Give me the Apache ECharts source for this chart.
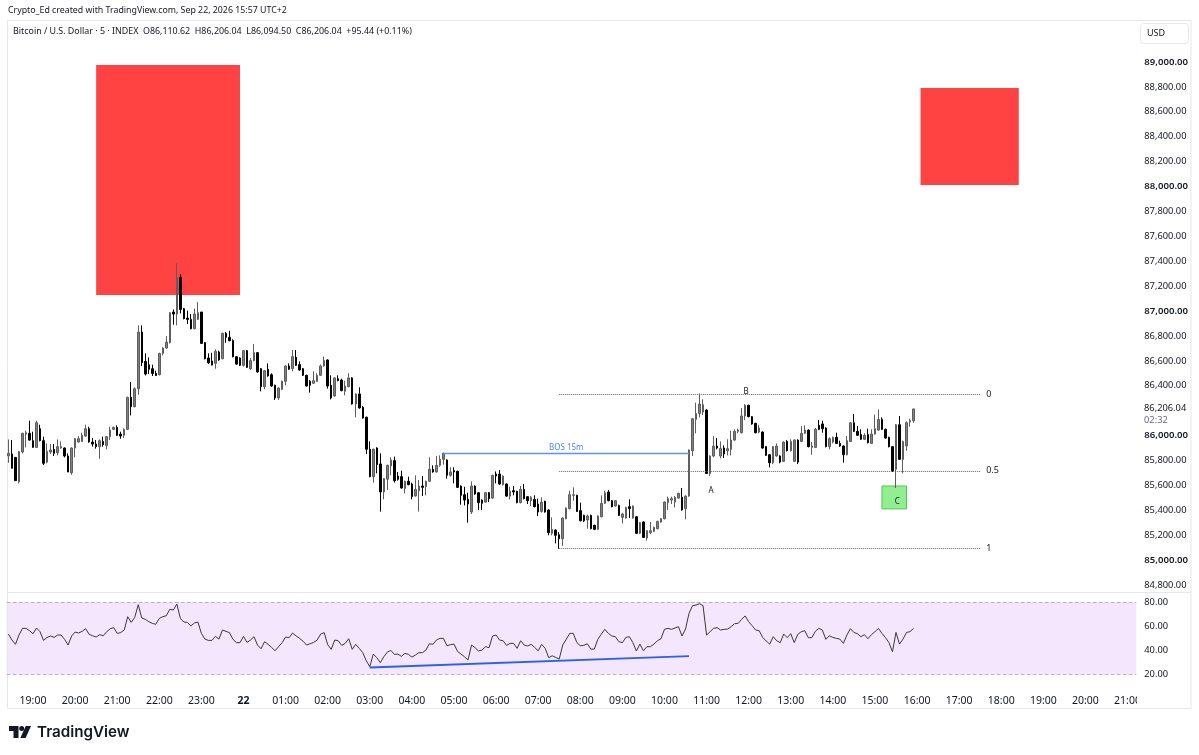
<!DOCTYPE html>
<html>
<head>
<meta charset="utf-8">
<title>BTCUSD 5m</title>
<style>
  html, body { margin: 0; padding: 0; background: #fff; }
  #main { width: 1199px; height: 755px; }
</style>
<script src="https://cdn.jsdelivr.net/npm/echarts@6/dist/echarts.min.js"></script>
</head>
<body>
<div id="main"></div>
<script>
// 5 minute bars, [open, close, low, high], first bar is 18:25
var ohlc = [
  [85828,85849,85774,85961],[85844,85729,85729,85956],[85817,85630,85630,85817],[85621,85865,85608,85865],[85860,86010,85849,86015],
  [86004,86015,85897,86031],[86010,85956,85951,86111],[85951,85897,85897,86023],[85897,86095,85897,86111],[86047,85951,85945,86079],
  [85951,85769,85755,85983],[85779,85865,85769,85929],[85860,85876,85844,85924],[85881,85849,85828,85924],[85854,85903,85833,85961],
  [85892,85903,85887,85945],[85892,85828,85817,85897],[85828,85699,85699,85849],[85694,85892,85678,85897],[85892,85967,85817,85972],
  [85940,85967,85935,85988],[85945,85994,85940,86015],[85988,86047,85983,86079],[86047,85940,85935,86063],[85940,85924,85903,85972],
  [85924,85903,85887,85956],[85903,85951,85806,85961],[85945,85919,85903,85983],[85913,85983,85881,85988],[85983,86036,85956,86063],
  [86042,86058,86036,86063],[86058,85994,85988,86074],[86004,85988,85967,86023],[85994,86042,85972,86050],[86042,86299,86036,86304],
  [86299,86224,86154,86422],[86224,86368,86218,86379],[86368,86823,86320,86877],[86823,86577,86550,86877],[86588,86486,86475,86652],
  [86561,86524,86486,86620],[86529,86491,86470,86561],[86491,86475,86470,86513],[86481,86652,86475,86657],[86652,86695,86636,86700],
  [86695,86743,86690,86791],[86738,86979,86732,86984],[86984,86968,86882,87005],[86968,87262,86877,87375],[87262,87005,86973,87289],
  [87011,86931,86925,87016],[86936,86925,86888,86995],[86925,86850,86845,86968],[86850,86968,86845,87011],[86925,86979,86920,87064],
  [86984,86732,86727,86984],[86738,86609,86604,86743],[86615,86577,86566,86652],[86591,86558,86556,86657],[86572,86668,86529,86684],
  [86663,86599,86593,86674],[86609,86813,86604,86818],[86813,86781,86738,86823],[86781,86754,86749,86834],[86754,86625,86620,86765],
  [86625,86566,86561,86631],[86615,86556,86551,86620],[86556,86674,86546,86679],[86674,86540,86535,86679],[86529,86594,86519,86615],
  [86594,86658,86588,86728],[86658,86503,86497,86663],[86529,86385,86347,86535],[86385,86513,86363,86519],[86524,86471,86465,86572],
  [86481,86390,86385,86492],[86396,86294,86278,86401],[86294,86374,86278,86380],[86363,86428,86358,86433],[86428,86551,86396,86556],
  [86551,86524,86519,86572],[86529,86626,86508,86679],[86620,86556,86551,86679],[86562,86519,86513,86588],[86529,86476,86471,86535],
  [86476,86390,86385,86481],[86428,86396,86337,86438],[86412,86433,86406,86508],[86428,86476,86422,86492],[86476,86551,86471,86562],
  [86551,86594,86546,86626],[86599,86390,86369,86604],[86396,86294,86283,86476],[86310,86455,86305,86460],[86449,86433,86428,86476],
  [86438,86353,86347,86449],[86347,86390,86315,86433],[86385,86455,86380,86492],[86455,86246,86240,86460],[86246,86326,86139,86331],
  [86326,86214,86208,86380],[86219,86133,86128,86230],[86139,85882,85844,86144],[85882,85662,85657,85946],[85662,85882,85614,85887],
  [85892,85759,85689,85898],[85764,85539,85381,85850],[85539,85646,85480,85651],[85641,85753,85555,85759],[85748,85796,85673,85817],
  [85791,85630,85614,85823],[85667,85641,85630,85700],[85662,85571,85566,85710],[85566,85625,85528,85630],[85625,85598,85593,85662],
  [85603,85502,85480,85614],[85507,85560,85502,85673],[85550,85587,85381,85635],[85587,85576,85507,85667],[85582,85625,85512,85630],
  [85625,85721,85619,85817],[85721,85700,85694,85753],[85700,85753,85694,85828],[85753,85801,85742,85833],[85801,85850,85759,85855],
  [85796,85673,85646,85801],[85673,85700,85662,85737],[85710,85700,85609,85737],[85705,85576,85571,85710],[85587,85512,85437,85592],
  [85517,85474,85431,85581],[85480,85442,85292,85533],[85378,85587,85362,85624],[85587,85522,85517,85592],[85533,85453,85394,85539],
  [85474,85448,85394,85480],[85458,85533,85453,85539],[85533,85485,85458,85539],[85490,85672,85485,85678],[85683,85667,85608,85704],
  [85683,85603,85597,85715],[85597,85667,85592,85672],[85603,85506,85501,85608],[85506,85544,85480,85581],[85549,85539,85512,85587],
  [85544,85453,85448,85549],[85453,85560,85448,85587],[85560,85485,85480,85603],[85501,85469,85442,85506],[85469,85496,85426,85506],
  [85480,85421,85415,85512],[85442,85378,85346,85485],[85383,85458,85373,85496],[85464,85378,85373,85469],[85394,85212,85191,85399],
  [85207,85239,85191,85335],[85233,85191,85126,85239],[85196,85164,85083,85217],[85164,85330,85105,85335],[85325,85410,85319,85415],
  [85405,85517,85399,85549],[85512,85517,85469,85576],[85512,85383,85378,85517],[85389,85308,85303,85453],[85351,85308,85298,85357],
  [85314,85346,85244,85357],[85351,85244,85239,85357],[85271,85239,85233,85276],[85239,85346,85233,85351],[85340,85448,85335,85512],
  [85448,85533,85442,85549],[85539,85469,85464,85555],[85469,85421,85415,85474],[85426,85469,85421,85474],[85431,85351,85346,85437],
  [85335,85362,85287,85373],[85330,85415,85324,85421],[85421,85405,85330,85480],[85330,85426,85324,85431],[85340,85207,85201,85346],
  [85207,85292,85201,85298],[85298,85174,85169,85303],[85169,85228,85148,85233],[85212,85228,85201,85298],[85223,85255,85217,85260],
  [85244,85303,85239,85308],[85298,85324,85292,85330],[85324,85458,85319,85464],[85453,85485,85394,85501],[85474,85485,85442,85501],
  [85458,85496,85415,85506],[85490,85528,85485,85533],[85496,85394,85389,85571],[85405,85506,85319,85512],[85506,85876,85501,85881],
  [85870,86127,85828,86133],[86122,86170,86010,86256],[86170,86245,86138,86331],[86181,86240,86157,86283],[86197,85688,85683,86202],
  [85688,85828,85667,85833],[85828,85908,85817,85988],[85908,85892,85881,85972],[85828,85889,85809,85945],[85892,85844,85812,85913],
  [85870,85887,85833,85962],[85881,85956,85833,86031],[85956,86026,85951,86042],[86026,86036,86010,86047],[86015,86149,86010,86213],
  [86149,86235,86117,86245],[86235,86144,86138,86240],[86144,86085,86079,86149],[86090,86015,86010,86095],[86020,86053,86010,86079],
  [86020,85892,85887,86026],[85903,85833,85828,85908],[85838,85774,85737,85844],[85774,85903,85763,85908],[85828,85908,85822,85929],
  [85828,85779,85769,85833],[85785,85940,85779,85945],[85945,85870,85865,85956],[85870,85945,85865,85962],[85785,85956,85779,85962],
  [85956,85779,85763,85962],[85945,86010,85940,86069],[86010,86036,86004,86074],[86036,85903,85897,86042],[85897,85908,85838,85940],
  [85897,86042,85892,86053],[86074,86042,86036,86117],[86085,86047,86015,86111],[86053,85903,85897,86058],[85903,85967,85881,85978],
  [85940,85978,85929,85983],[85978,85929,85924,86015],[85929,85908,85903,85951],[85908,85838,85774,85913],[85838,85951,85833,85988],
  [85945,86095,85940,86101],[86095,86026,86020,86165],[86026,85994,85988,86069],[86000,85962,85956,86042],[85962,85994,85956,86010],
  [86000,85935,85929,86047],[85929,86004,85924,86042],[86004,86047,86000,86160],[86036,86122,86031,86202],[86122,86042,86036,86138],
  [86042,85972,85967,86047],[85978,85903,85897,85983],[85903,85710,85699,85908],[85721,86079,85571,86085],[86079,85801,85796,86149],
  [85801,85945,85688,85951],[85908,86095,85870,86106],[86101,86111,86063,86127],[86110.62,86206.04,86094.5,86206.04]
];

var rsi = [
  53.5,48.5,44.9,52.7,58.3,58.3,56.3,53.8,58.6,55.5,
  48.2,50.7,51.9,50.7,52.7,52.7,49.1,44.3,51.9,55.2,
  54.4,55.8,58.0,53.3,52.1,51.0,53.0,52.1,55.5,58.0,
  58.9,54.1,54.7,56.9,68.1,63.3,67.5,78.2,67.0,65.9,
  63.9,62.5,61.7,66.7,68.1,68.9,74.3,73.7,78.7,66.7,
  63.6,63.3,60.3,62.8,63.6,54.1,49.3,48.2,48.2,51.6,
  49.3,56.9,55.8,54.7,49.1,46.3,46.3,51.6,46.5,48.5,
  51.3,44.3,41.2,47.1,44.9,42.3,39.5,42.9,46.3,51.0,
  50.5,54.4,51.9,49.9,47.4,44.3,45.4,46.5,48.5,53.5,
  54.7,44.6,40.7,48.5,47.9,44.0,45.7,49.6,40.7,44.9,
  41.5,37.9,31.1,26.1,36.7,33.7,29.5,34.5,38.4,39.8,
  36.5,36.7,34.8,37.3,36.5,34.2,35.9,37.9,37.9,40.1,
  45.4,44.9,48.5,49.9,49.9,43.7,44.6,45.1,39.0,36.7,
  34.5,31.7,44.3,42.1,39.3,40.1,42.9,42.1,51.9,52.7,
  48.5,47.9,44.0,45.7,45.7,41.5,47.9,44.3,43.5,44.9,
  42.3,39.5,44.9,41.5,33.7,35.3,33.9,32.5,44.3,49.1,
  54.1,54.1,46.5,43.7,44.0,45.4,40.9,40.9,49.1,53.5,
  57.5,54.1,51.9,51.3,47.1,46.3,50.7,51.3,46.3,39.3,
  45.1,39.5,42.9,42.9,45.1,47.9,49.6,57.5,58.3,57.5,
  58.6,59.7,51.9,57.7,70.9,77.3,77.9,79.0,77.3,52.7,
  55.5,58.3,58.9,56.9,57.5,57.7,59.7,62.2,62.5,65.9,
  68.7,63.9,60.5,56.9,56.3,50.7,47.7,45.1,51.3,47.9,
  46.3,53.5,50.5,53.8,46.3,53.3,55.5,56.3,50.5,50.5,
  55.8,58.3,56.9,49.1,52.1,50.7,49.9,49.3,45.7,52.7,
  58.0,54.9,53.8,51.3,53.0,49.6,53.0,55.5,58.3,54.1,
  50.5,46.3,38.7,54.9,45.1,49.3,54.9,55.5,58.3
];

// drawings: bar index from/to and price levels
var redZones = [
  { from: 25, to: 66, top: 88968, bottom: 87121 },
  { from: 260, to: 288, top: 88783, bottom: 88004 }
];
var greenZone = { from: 249, to: 256, top: 85587, bottom: 85403 };
var fibLevels = [
  { label: '0', price: 86326 },
  { label: '0.5', price: 85708 },
  { label: '1', price: 85089 }
];
var fibFrom = 157, fibTo = 277;
var bos = { from: 124, to: 194, price: 85848, label: 'BOS 15m' };
var points = [
  { name: 'A', bar: 200, price: 85563 },
  { name: 'B', bar: 210, price: 86358 }
];
var rsiTrend = { from: 103, to: 194, start: 25.5, end: 35 };

// the axis runs past the last bar up to 21:15
var barCount = 322;
var firstBar = 18 * 60 + 25;
var categories = [];
for (var i = 0; i < barCount; i++) {
  var m = (firstBar + i * 5) % 1440;
  var hh = Math.floor(m / 60), mm = m % 60;
  categories.push((hh < 10 ? '0' : '') + hh + ':' + (mm < 10 ? '0' : '') + mm);
}

var uiFont = '"Noto Sans", sans-serif';
var textColor = '#131722';
var frameColor = '#e6e7ec';
var bosColor = '#5f90ff';

var myChart = echarts.init(document.getElementById('main'));

function moneyLabel(v) {
  // the last price label sits where 86,200 would be
  if (v === 86200) return '';
  var s = v.toLocaleString('en-US', { minimumFractionDigits: 2, maximumFractionDigits: 2 });
  return v % 1000 === 0 ? '{major|' + s + '}' : s;
}

function fibLines() {
  return fibLevels.map(function (f) {
    return [{
      coord: [fibFrom, f.price],
      lineStyle: { color: '#666', type: 'dotted', width: 1 },
      label: { show: true, position: 'end', formatter: f.label, color: textColor, fontSize: 9, fontFamily: uiFont, distance: 6 }
    }, { coord: [fibTo, f.price], lineStyle: { color: '#666', type: 'dotted', width: 1 } }];
  });
}

var option = {
  animation: false,
  backgroundColor: '#fff',
  textStyle: { fontFamily: uiFont },
  grid: [
    { left: 6.7, width: 1129.6, top: 61, height: 523 },
    { left: 6.7, width: 1129.6, top: 602.5, height: 71.5, show: true, backgroundColor: '#f3e6fd', borderWidth: 0 }
  ],
  xAxis: [
    {
      type: 'category', gridIndex: 0, data: categories, boundaryGap: true,
      axisLine: { show: false }, axisTick: { show: false }, axisLabel: { show: false }, splitLine: { show: false }
    },
    {
      type: 'category', gridIndex: 1, data: categories, boundaryGap: true,
      axisLine: { show: false }, axisTick: { show: false }, splitLine: { show: false },
      axisLabel: {
        margin: 22, fontSize: 10.5, color: textColor, hideOverlap: false,
        interval: function (idx, val) { return val.slice(3) === '00'; },
        formatter: function (val) { return val === '00:00' ? '{d|22}' : val; },
        rich: { d: { fontWeight: 'bold', fontSize: 10.5, color: textColor } }
      }
    }
  ],
  yAxis: [
    {
      type: 'value', gridIndex: 0, position: 'right', min: 84800, max: 89000, interval: 200,
      axisLine: { show: false }, axisTick: { show: false }, splitLine: { show: false },
      axisLabel: {
        margin: 8, fontSize: 9.3, color: textColor, padding: [2, 0, 0, 0], formatter: moneyLabel,
        rich: { major: { fontSize: 9.6, fontWeight: 600, color: textColor } }
      }
    },
    {
      type: 'value', gridIndex: 1, position: 'right', min: 20, max: 80, interval: 20,
      axisLine: { show: false }, axisTick: { show: false }, splitLine: { show: false },
      axisLabel: { margin: 8, fontSize: 9.3, color: textColor, padding: [2, 0, 0, 0], formatter: function (v) { return v.toFixed(2); } }
    }
  ],
  series: [
    {
      name: 'BTCUSD',
      type: 'candlestick',
      xAxisIndex: 0,
      yAxisIndex: 0,
      data: ohlc,
      barWidth: 2,
      itemStyle: { color: '#808080', color0: '#000', borderColor: '#5e5e5e', borderColor0: '#000', borderWidth: 1 },
      markArea: {
        silent: true,
        data: redZones.map(function (z) {
          return [{ coord: [z.from, z.top], itemStyle: { color: '#ff4242', opacity: 1 } }, { coord: [z.to, z.bottom] }];
        }).concat([[{
          coord: [greenZone.from, greenZone.top],
          itemStyle: { color: '#90f090', opacity: 1, borderColor: '#58c458', borderWidth: 1 },
          label: { show: true, position: 'inside', formatter: 'C', color: textColor, fontSize: 8, offset: [3, 4] }
        }, { coord: [greenZone.to, greenZone.bottom] }]])
      },
      markLine: {
        silent: true,
        symbol: 'none',
        label: { show: false },
        data: fibLines().concat([[{
          coord: [bos.from, bos.price],
          lineStyle: { color: bosColor, type: 'solid', width: 1.4 },
          label: { show: true, position: 'insideMiddleTop', formatter: bos.label, color: '#4f84f5', fontSize: 8, distance: 2 }
        }, { coord: [bos.to, bos.price], lineStyle: { color: bosColor, type: 'solid', width: 1.4 } }]])
      },
      markPoint: {
        silent: true,
        symbol: 'circle',
        symbolSize: 0,
        label: { show: true, position: 'inside', formatter: '{b}', color: textColor, fontSize: 8, offset: [1, 2] },
        data: points.map(function (p) { return { name: p.name, coord: [p.bar, p.price] }; })
      }
    },
    {
      name: 'RSI',
      type: 'line',
      xAxisIndex: 1,
      yAxisIndex: 1,
      data: rsi,
      showSymbol: false,
      symbol: 'none',
      lineStyle: { color: '#3a3a3a', width: 1 },
      markLine: {
        silent: true,
        symbol: 'none',
        label: { show: false },
        data: [
          { yAxis: 80, lineStyle: { color: '#b8b8b8', type: 'dashed', width: 1 } },
          { yAxis: 20, lineStyle: { color: '#b8b8b8', type: 'dashed', width: 1 } },
          [{ coord: [rsiTrend.from, rsiTrend.start], lineStyle: { color: '#2b5ff0', type: 'solid', width: 2 } },
           { coord: [rsiTrend.to, rsiTrend.end], lineStyle: { color: '#2b5ff0', type: 'solid', width: 2 } }]
        ]
      }
    }
  ],
  graphic: [
    // the time scale is cut off at the price scale
    { type: 'rect', silent: true, z: 100, shape: { x: 1137, y: 690, width: 10, height: 16 }, style: { fill: '#fff' } },
    // pane frame
    { type: 'line', silent: true, shape: { x1: 7.5, y1: 20.5, x2: 1191, y2: 20.5 }, style: { stroke: frameColor } },
    { type: 'line', silent: true, shape: { x1: 7.5, y1: 20.5, x2: 7.5, y2: 708.5 }, style: { stroke: frameColor } },
    { type: 'line', silent: true, shape: { x1: 7.5, y1: 708.5, x2: 1191, y2: 708.5 }, style: { stroke: frameColor } },
    { type: 'line', silent: true, shape: { x1: 7.5, y1: 592.5, x2: 1191, y2: 592.5 }, style: { stroke: frameColor } },
    { type: 'line', silent: true, shape: { x1: 1191, y1: 20.5, x2: 1191, y2: 708.5 }, style: { stroke: frameColor } },
    // header
    { type: 'text', left: 8, top: 5.5, style: { text: 'Crypto_Ed created with TradingView.com, Sep 22, 2026 15:57 UTC+2', fontSize: 8.8, fontFamily: uiFont, fill: textColor } },
    { type: 'text', left: 13, top: 26.5, style: { text: 'Bitcoin / U.S. Dollar · 5 · INDEX  O86,110.62  H86,206.04  L86,094.50  C86,206.04  +95.44 (+0.11%)', fontSize: 8.9, fontFamily: uiFont, fill: textColor } },
    // USD button
    { type: 'rect', silent: true, shape: { x: 1140.5, y: 23.5, width: 48, height: 20, r: 3 }, style: { fill: '#fff', stroke: frameColor } },
    { type: 'text', left: 1147, top: 28.5, style: { text: 'USD', fontSize: 9, fontFamily: uiFont, fill: textColor } },
    // last price
    { type: 'text', left: 1144, top: 403.5, style: { text: '86,206.04', fontSize: 9.3, fontFamily: uiFont, fill: textColor } },
    { type: 'text', left: 1144, top: 415.5, style: { text: '02:32', fontSize: 9.3, fontFamily: uiFont, fill: '#6a6d78' } },
    // logo
    { type: 'polygon', silent: true, shape: { points: [[9, 726], [18.5, 726], [18.5, 738], [13.5, 738], [13.5, 731], [9, 731]] }, style: { fill: '#131722' } },
    { type: 'circle', silent: true, shape: { cx: 21.7, cy: 728.5, r: 2.5 }, style: { fill: '#131722' } },
    { type: 'polygon', silent: true, shape: { points: [[25.8, 726], [31, 726], [25.6, 738], [20.3, 738]] }, style: { fill: '#131722' } },
    { type: 'text', left: 37, top: 725, style: { text: 'TradingView', fontSize: 15.2, fontWeight: 600, fontFamily: 'Inter, sans-serif', fill: '#131722' } }
  ]
};

myChart.setOption(option);
</script>
</body>
</html>
